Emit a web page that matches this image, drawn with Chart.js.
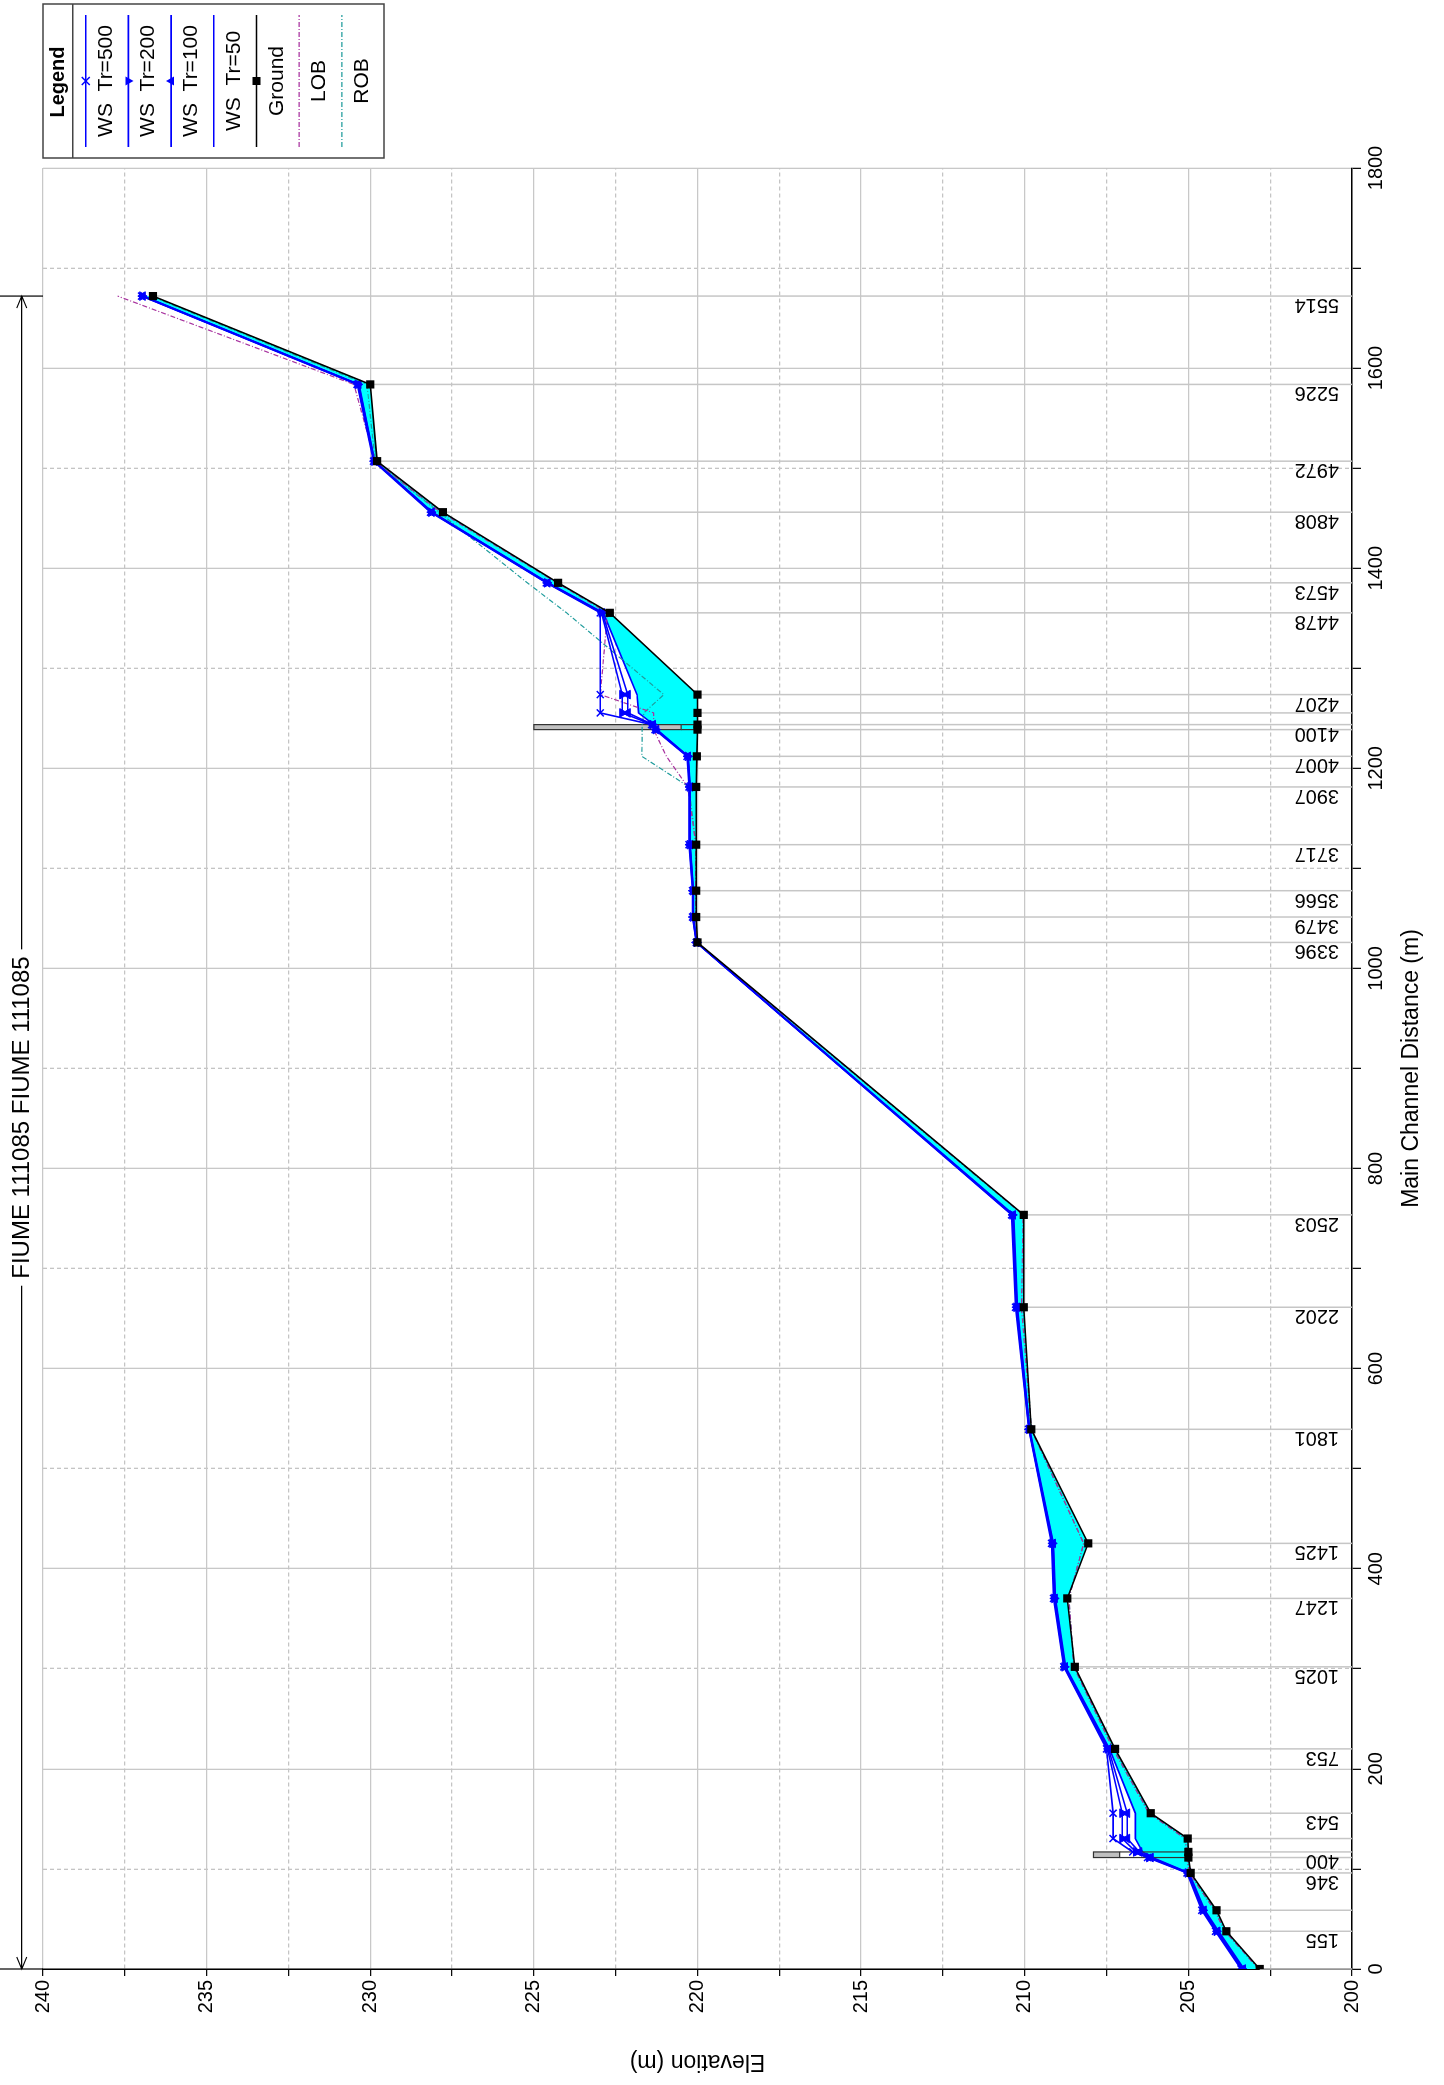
<!DOCTYPE html>
<html><head><meta charset="utf-8">
<script src="https://cdn.jsdelivr.net/npm/chart.js@4"></script>
<style>
html,body{margin:0;padding:0;background:#fff;overflow:hidden;width:1444px;height:2085px}
#wrap{position:absolute;left:0;top:0;width:2085px;height:1444px;transform-origin:0 0;transform:translateY(2085px) rotate(-90deg)}
canvas{display:block}
</style></head><body>
<div id="wrap"><canvas id="c" width="2085" height="1444"></canvas></div>
<script>
// ---- data (main channel distance in m, elevations in m) ----
const reachTitle = 'FIUME 111085 FIUME 111085';
const distances = [0, 37.7, 58.7, 96, 111.4, 117, 130.4, 155.7, 220, 302, 370.4, 425.4, 539.4, 661.4, 753.7, 1026, 1051.4, 1077.7, 1123.7, 1181.4, 1212, 1238.7, 1243.7, 1255.4, 1273.7, 1355.4, 1385.4, 1456, 1507, 1583.7, 1672];
const stationLabels = ['', '155', '', '346', '', '400', '', '543', '753', '1025', '1247', '1425', '1801', '2202', '2503', '3396', '3479', '3566', '3717', '3907', '4007', '', '4100', '', '4207', '4478', '4573', '4808', '4972', '5226', '5514'];
const ground = [202.82, 203.84, 204.14, 204.93, 205.0, 205.0, 205.02, 206.15, 207.24, 208.47, 208.70, 208.06, 209.80, 210.03, 210.03, 220.0, 220.04, 220.04, 220.04, 220.04, 220.02, 220.0, 220.0, 220.0, 220.0, 222.68, 224.26, 227.78, 229.79, 230.0, 236.64];
const ws500 = [203.39, 204.17, 204.59, 205.04, 206.25, 206.7, 207.3, 207.3, 207.5, 208.81, 209.12, 209.18, 209.88, 210.28, 210.4, 220.04, 220.15, 220.15, 220.26, 220.26, 220.32, 221.3, 221.4, 222.97, 222.97, 222.97, 224.62, 228.16, 229.9, 230.4, 236.99];
const ws200 = [203.36, 204.14, 204.56, 205.02, 206.2, 206.6, 207.02, 207.02, 207.47, 208.79, 209.1, 209.16, 209.87, 210.26, 210.38, 220.03, 220.14, 220.14, 220.24, 220.24, 220.3, 221.28, 221.38, 222.3, 222.3, 222.93, 224.6, 228.14, 229.88, 230.38, 236.97];
const ws100 = [203.33, 204.11, 204.53, 205.0, 206.15, 206.5, 206.87, 206.87, 207.44, 208.77, 209.08, 209.14, 209.86, 210.24, 210.36, 220.03, 220.13, 220.13, 220.23, 220.23, 220.29, 221.26, 221.36, 222.13, 222.13, 222.91, 224.58, 228.12, 229.87, 230.36, 236.95];
const ws50 = [203.3, 204.08, 204.5, 204.98, 206.1, 206.4, 206.62, 206.62, 207.41, 208.75, 209.06, 209.12, 209.85, 210.22, 210.34, 220.02, 220.12, 220.12, 220.22, 220.22, 220.28, 221.24, 221.34, 221.8, 221.85, 222.88, 224.56, 228.1, 229.86, 230.34, 236.93];
const lob = [202.85, 203.88, 204.2, 204.97, 205.05, 205.05, 205.1, 206.2, 207.3, 208.5, 208.65, 208.2, 209.8, 210.1, 210.05, 220.02, 220.05, 220.05, 220.05, 220.3, 220.95, 221.34, 221.34, 221.34, 222.97, 222.75, 224.3, 227.85, 229.85, 230.5, 237.72];
const rob = [202.85, 203.88, 204.2, 204.97, 205.05, 205.05, 205.1, 206.2, 207.3, 208.5, 208.65, 208.2, 209.8, 210.05, 210.05, 220.02, 220.05, 220.05, 220.05, 220.26, 221.7, 221.69, 221.69, 221.64, 221.03, 224.0, 225.2, 227.9, 229.85, 230.1, 236.7];
// inline structures (bridges): distances of the two faces, high chord, low chord, bed
const structDistDn = [111.4, 1238.7];
const structDistUp = [117, 1243.7];
const structHigh = [207.9, 225.0];
const structLow = [207.1, 220.5];
const structBed = [205.0, 220.0];
const xTitle = 'Main Channel Distance (m)';
const yTitle = 'Elevation (m)';

const FONT = '"Liberation Sans", Arial, Helvetica, sans-serif';
const pts = arr => distances.map((d, i) => ({x: d, y: arr[i]}));

const datasets = [
  {label: 'WS  Tr=500', data: pts(ws500), borderColor: '#0000ff', backgroundColor: '#0000ff', borderWidth: 1.6,
   pointStyle: 'crossRot', pointRadius: 5, pointBorderWidth: 1.5, fill: false, order: 2, _mk: 'x'},
  {label: 'WS  Tr=200', data: pts(ws200), borderColor: '#0000ff', backgroundColor: '#0000ff', borderWidth: 1.6,
   pointStyle: 'triangle', pointRotation: 180, pointRadius: 5, pointBorderWidth: 1, fill: false, order: 3, _mk: 'tdown'},
  {label: 'WS  Tr=100', data: pts(ws100), borderColor: '#0000ff', backgroundColor: '#0000ff', borderWidth: 1.6,
   pointStyle: 'triangle', pointRotation: 0, pointRadius: 5, pointBorderWidth: 1, fill: false, order: 4, _mk: 'tup'},
  {label: 'WS  Tr=50', data: pts(ws50), borderColor: '#0000ff', backgroundColor: '#00ffff', borderWidth: 1.6,
   pointRadius: 0, fill: {target: 4, above: '#00ffff', below: '#00ffff'}, order: 10, _mk: ''},
  {label: 'Ground', data: pts(ground), borderColor: '#000000', backgroundColor: '#000000', borderWidth: 1.6,
   pointStyle: 'rect', pointRadius: 5.8, pointBorderWidth: 0, fill: false, order: 1, _mk: 'sq'},
  {label: 'LOB', data: pts(lob), borderColor: '#a8329f', borderWidth: 1.2, borderDash: [5, 2, 1, 2],
   pointRadius: 0, fill: false, order: 6, _mk: ''},
  {label: 'ROB', data: pts(rob), borderColor: '#1f9c9c', borderWidth: 1.2, borderDash: [5, 2, 1, 2],
   pointRadius: 0, fill: false, order: 7, _mk: ''}
];

function drawMarker(ctx, kind, x, y, color) {
  ctx.save();
  ctx.fillStyle = color; ctx.strokeStyle = color; ctx.lineWidth = 1.5; ctx.setLineDash([]);
  if (kind === 'x') {
    ctx.beginPath(); ctx.moveTo(x - 4, y - 4); ctx.lineTo(x + 4, y + 4); ctx.moveTo(x - 4, y + 4); ctx.lineTo(x + 4, y - 4); ctx.stroke();
  } else if (kind === 'tup') {
    ctx.beginPath(); ctx.moveTo(x, y - 5); ctx.lineTo(x + 4.5, y + 3); ctx.lineTo(x - 4.5, y + 3); ctx.closePath(); ctx.fill();
  } else if (kind === 'tdown') {
    ctx.beginPath(); ctx.moveTo(x, y + 5); ctx.lineTo(x + 4.5, y - 3); ctx.lineTo(x - 4.5, y - 3); ctx.closePath(); ctx.fill();
  } else if (kind === 'sq') {
    ctx.fillRect(x - 4, y - 4, 8, 8);
  }
  ctx.restore();
}

const deco = {
  id: 'deco',
  beforeDatasetsDraw(chart) {
    const {ctx, chartArea: ca, scales: {x: xs, y: ys}} = chart;
    ctx.save();
    ctx.strokeStyle = '#c6c6c6'; ctx.lineWidth = 1.5;
    distances.forEach((d, i) => {
      const px = xs.getPixelForValue(d);
      ctx.beginPath(); ctx.moveTo(px, ys.getPixelForValue(ground[i])); ctx.lineTo(px, ca.bottom); ctx.stroke();
    });
    ctx.restore();
  },
  afterDatasetDraw(chart, args) {
    if (args.index !== 3) return;
    const {ctx, scales: {x: xs, y: ys}} = chart;
    ctx.save();
    structDistDn.forEach((d, i) => {
      const xa = xs.getPixelForValue(d), xb = xs.getPixelForValue(structDistUp[i]);
      const yh = ys.getPixelForValue(structHigh[i]), yl = ys.getPixelForValue(structLow[i]), yb = ys.getPixelForValue(structBed[i]);
      ctx.fillStyle = '#c0c0c0';
      ctx.fillRect(xa, yh, xb - xa, yl - yh);
      ctx.strokeStyle = '#333'; ctx.lineWidth = 1.2;
      ctx.strokeRect(xa, yh, xb - xa, yl - yh);
      ctx.beginPath(); ctx.moveTo(xa, yl); ctx.lineTo(xa, yb); ctx.moveTo(xb, yl); ctx.lineTo(xb, yb); ctx.stroke();
    });
    ctx.restore();
  },
  afterDraw(chart) {
    const {ctx, chartArea: ca, scales: {x: xs, y: ys}} = chart;
    ctx.save();
    // station labels
    ctx.fillStyle = '#000'; ctx.font = '21px ' + FONT; ctx.textAlign = 'left'; ctx.textBaseline = 'alphabetic';
    distances.forEach((d, i) => {
      if (!stationLabels[i]) return;
      const px = xs.getPixelForValue(d);
      ctx.save(); ctx.translate(px - 3, ca.bottom - 13); ctx.rotate(-Math.PI / 2); ctx.scale(0.95, 1);
      ctx.fillText(stationLabels[i], 0, 0); ctx.restore();
    });
    // reach arrow and title
    const x0 = xs.getPixelForValue(distances[0]), x1 = xs.getPixelForValue(distances[distances.length - 1]);
    const yA = 21.7;
    ctx.strokeStyle = '#000'; ctx.lineWidth = 1.2;
    ctx.beginPath();
    ctx.moveTo(x0, yA); ctx.lineTo(x1, yA);
    ctx.moveTo(x0, 0); ctx.lineTo(x0, ca.top);
    ctx.moveTo(x1, 0); ctx.lineTo(x1, ca.top);
    ctx.moveTo(x0 + 12, yA - 5); ctx.lineTo(x0, yA); ctx.lineTo(x0 + 12, yA + 5);
    ctx.moveTo(x1 - 12, yA - 5); ctx.lineTo(x1, yA); ctx.lineTo(x1 - 12, yA + 5);
    ctx.stroke();
    ctx.font = '24px ' + FONT;
    const tw = ctx.measureText(reachTitle).width, xm = (x0 + x1) / 2 + 15;
    ctx.fillStyle = '#fff'; ctx.fillRect(xm - tw / 2 - 7, yA - 13, tw + 14, 26);
    ctx.fillStyle = '#000'; ctx.textAlign = 'center'; ctx.textBaseline = 'middle';
    ctx.fillText(reachTitle, xm, yA + 1);
    // legend
    const L = {x1: 1927, x2: 2081, y1: 43, y2: 384};
    ctx.fillStyle = '#fff'; ctx.fillRect(L.x1, L.y1, L.x2 - L.x1, L.y2 - L.y1);
    ctx.strokeStyle = '#444'; ctx.lineWidth = 1.5; ctx.strokeRect(L.x1, L.y1, L.x2 - L.x1, L.y2 - L.y1);
    ctx.beginPath(); ctx.moveTo(L.x1, 72.7); ctx.lineTo(L.x2, 72.7); ctx.stroke();
    ctx.fillStyle = '#000'; ctx.font = 'bold 20px ' + FONT; ctx.textAlign = 'center'; ctx.textBaseline = 'alphabetic';
    ctx.fillText('Legend', 2003, 64);
    datasets.forEach((ds, k) => {
      const yl = 85.7 + 42.7 * k;
      ctx.save();
      ctx.strokeStyle = ds.borderColor; ctx.lineWidth = ds.borderWidth; ctx.setLineDash(ds.borderDash || []);
      ctx.beginPath(); ctx.moveTo(1938, yl); ctx.lineTo(2070, yl); ctx.stroke();
      ctx.restore();
      if (ds._mk) drawMarker(ctx, ds._mk, 2004, yl, ds.borderColor);
      ctx.fillStyle = '#000'; ctx.font = '21px ' + FONT;
      ctx.fillText(ds.label, 2004, yl + 26);
    });
    ctx.restore();
  }
};

const tickFont = {family: FONT, size: 20};
new Chart(document.getElementById('c'), {
  type: 'line',
  data: {datasets},
  options: {
    responsive: false, animation: false, devicePixelRatio: 1,
    layout: {padding: {top: 43, right: 168, bottom: 0, left: 0}},
    plugins: {legend: {display: false}, tooltip: {enabled: false}},
    elements: {line: {tension: 0}},
    scales: {
      x: {
        type: 'linear', min: 0, max: 1800,
        afterFit(s) { s.height = 92; },
        ticks: {stepSize: 100, autoSkip: false, maxRotation: 0, color: '#000', font: tickFont, padding: 3,
                callback: v => (v % 200 === 0 ? String(v) : '')},
        grid: {color: c => (c.tick && c.tick.value % 200 !== 0 ? '#c4c4c4' : '#c8c8c8'), lineWidth: 1.3,
               tickLength: 9, tickColor: '#000', tickWidth: 1.2},
        border: {color: '#000', width: 1.5, dash: c => (c.tick && c.tick.value % 200 !== 0 ? [4, 3] : [])},
        title: {display: true, text: xTitle, color: '#000', font: {family: FONT, size: 23}, padding: {top: 0, bottom: 19}}
      },
      y: {
        type: 'linear', min: 200, max: 240,
        afterFit(s) { s.width = 116; },
        ticks: {stepSize: 2.5, autoSkip: false, color: '#000', font: tickFont, padding: 4,
                callback: v => (v % 5 === 0 ? String(v) : '')},
        grid: {color: c => (c.tick && c.tick.value % 5 !== 0 ? '#c4c4c4' : '#c8c8c8'), lineWidth: 1.3,
               tickLength: 7, tickColor: '#000', tickWidth: 1.2},
        border: {color: '#000', width: 1.5, dash: c => (c.tick && c.tick.value % 5 !== 0 ? [4, 3] : [])},
        title: {display: true, text: yTitle, color: '#000', font: {family: FONT, size: 23}, padding: {top: 10, bottom: 0}}
      }
    }
  },
  plugins: [deco]
});
</script>
</body></html>
